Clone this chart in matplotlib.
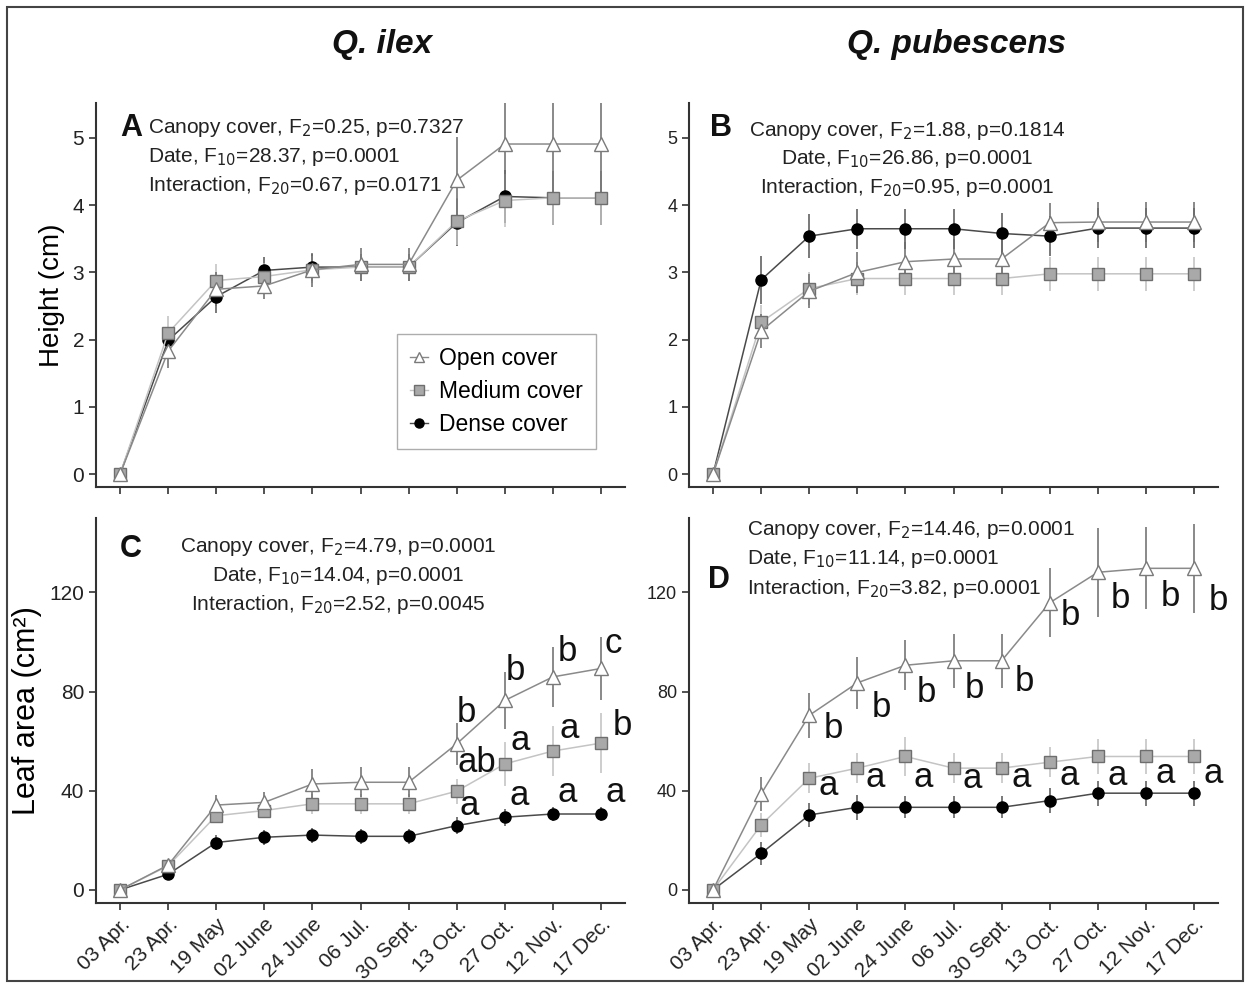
import matplotlib
matplotlib.use("Agg")
import matplotlib.pyplot as plt
from matplotlib.patches import Rectangle
from matplotlib.lines import Line2D

plt.rcParams['font.family'] = ['Liberation Sans', 'DejaVu Sans']

dates = ["03 Apr.", "23 Apr.", "19 May", "02 June", "24 June", "06 Jul.",
         "30 Sept.", "13 Oct.", "27 Oct.", "12 Nov.", "17 Dec."]
series_names = ["Open cover", "Medium cover", "Dense cover"]

# Panel A: Q. ilex height (cm)
a_open = [0, 1.83, 2.75, 2.80, 3.04, 3.12, 3.12, 4.37, 4.91, 4.91, 4.91]
a_open_err = [0, 0.25, 0.25, 0.2, 0.25, 0.25, 0.25, 0.65, 0.85, 0.85, 0.85]
a_med = [0, 2.10, 2.88, 2.94, 3.04, 3.08, 3.08, 3.76, 4.07, 4.11, 4.11]
a_med_err = [0, 0.25, 0.25, 0.2, 0.2, 0.2, 0.2, 0.35, 0.4, 0.4, 0.4]
a_dense = [0, 1.99, 2.64, 3.03, 3.08, 3.08, 3.08, 3.74, 4.13, 4.11, 4.11]
a_dense_err = [0, 0.2, 0.25, 0.2, 0.2, 0.2, 0.2, 0.35, 0.4, 0.4, 0.4]

# Panel B: Q. pubescens height (cm)
b_open = [0, 2.13, 2.72, 3.00, 3.16, 3.20, 3.20, 3.74, 3.75, 3.75, 3.75]
b_open_err = [0, 0.25, 0.25, 0.3, 0.3, 0.3, 0.3, 0.3, 0.3, 0.3, 0.3]
b_med = [0, 2.26, 2.76, 2.91, 2.91, 2.91, 2.91, 2.98, 2.98, 2.98, 2.98]
b_med_err = [0, 0.25, 0.25, 0.25, 0.25, 0.25, 0.25, 0.25, 0.25, 0.25, 0.25]
b_dense = [0, 2.89, 3.54, 3.65, 3.65, 3.65, 3.58, 3.54, 3.66, 3.66, 3.66]
b_dense_err = [0, 0.36, 0.33, 0.3, 0.3, 0.3, 0.3, 0.3, 0.3, 0.3, 0.3]

# Panel C: Q. ilex leaf area (cm2)
c_open = [0, 10.0, 34.2, 35.3, 42.7, 43.4, 43.4, 58.9, 76.4, 85.9, 89.3]
c_open_err = [0, 2, 4, 4, 6, 6, 6, 8.5, 11.5, 12, 12.8]
c_med = [0, 9.7, 29.9, 32.0, 34.7, 34.7, 34.7, 39.8, 50.8, 56.0, 59.2]
c_med_err = [0, 2, 3, 3, 4, 4, 4, 5, 9, 10, 12]
c_dense = [0, 6.3, 19.1, 21.2, 22.1, 21.6, 21.6, 25.9, 29.3, 30.6, 30.6]
c_dense_err = [0, 1.5, 3, 3, 3, 3, 3, 3.5, 3.5, 3, 3]

# Panel D: Q. pubescens leaf area (cm2)
d_open = [0, 38.7, 70.4, 83.5, 90.6, 92.4, 92.4, 115.8, 128.1, 129.7, 129.7]
d_open_err = [0, 7, 9, 10.5, 10, 11, 11, 14, 18, 16.5, 18]
d_med = [0, 26.2, 45.0, 49.1, 53.8, 49.1, 49.1, 51.5, 53.8, 53.8, 53.8]
d_med_err = [0, 5, 6, 6, 8, 6, 6, 6, 7, 7, 7]
d_dense = [0, 14.7, 30.2, 33.3, 33.3, 33.3, 33.3, 36.0, 39.0, 39.0, 39.0]
d_dense_err = [0, 4.5, 5, 5, 4.5, 4.5, 4.5, 5, 5, 5, 5]

# Significance letters (index of date, letter)
c_open_letters = [(7, "b"), (8, "b"), (9, "b"), (10, "c")]
c_med_letters = [(7, "ab"), (8, "a"), (9, "a"), (10, "b")]
c_dense_letters = [(7, "a"), (8, "a"), (9, "a"), (10, "a")]
d_open_letters = [(i, "b") for i in range(2, 11)]
d_med_letters = [(i, "a") for i in range(2, 11)]

# Layout: letter anchor positions (data coords) - placement only
c_open_lpos = [(7.2, 71.7), (8.22, 88.6), (9.3, 96.0), (10.26, 99.4)]
c_med_lpos = [(7.42, 51.5), (8.33, 60.3), (9.33, 65.0), (10.44, 66.3)]
c_dense_lpos = [(7.26, 34.0), (8.3, 38.0), (9.3, 39.4), (10.3, 39.4)]
d_open_lpos = [(2.5, 65.0), (3.5, 73.7), (4.44, 79.8), (5.44, 81.2), (6.48, 83.9),
               (7.44, 110.8), (8.48, 117.6), (9.5, 118.2), (10.5, 116.9)]
d_med_lpos = [(2.39, 42.0), (3.37, 45.4), (4.37, 45.4), (5.39, 44.8), (6.4, 45.4),
              (7.4, 46.1), (8.4, 46.1), (9.4, 46.8), (10.4, 46.8)]

x = list(range(len(dates)))

W, H = 1250, 988
fig = plt.figure(figsize=(W / 100, H / 100), dpi=100)

def frac(l, t, r, b):
    return [l / W, 1 - b / H, (r - l) / W, (b - t) / H]

axA = fig.add_axes(frac(96, 103, 625, 487))
axB = fig.add_axes(frac(689, 103, 1218, 487))
axC = fig.add_axes(frac(96, 518, 625, 903))
axD = fig.add_axes(frac(689, 518, 1218, 903))

styles = {
    "open": dict(marker='^', mfc='white', mec='#7a7a7a', color='#8a8a8a', ms=9.5, ecolor='#6a6a6a'),
    "med": dict(marker='s', mfc='#a9a9a9', mec='#6e6e6e', color='#c4c4c4', ms=8, ecolor='#c0c0c0'),
    "dense": dict(marker='o', mfc='black', mec='black', color='#4a4a4a', ms=8, ecolor='#555555'),
}

def draw(ax, dense, dense_e, med, med_e, op, op_e):
    for key, y, e in [("dense", dense, dense_e), ("med", med, med_e), ("open", op, op_e)]:
        s = styles[key]
        ax.errorbar(x, y, yerr=e, fmt='none', ecolor=s['ecolor'], elinewidth=1.1, capsize=0, zorder=2)
        ax.plot(x, y, color=s['color'], lw=1.1, marker=s['marker'], mfc=s['mfc'], mec=s['mec'],
                ms=s['ms'], mew=1.0, zorder=3)

draw(axA, a_dense, a_dense_err, a_med, a_med_err, a_open, a_open_err)
draw(axB, b_dense, b_dense_err, b_med, b_med_err, b_open, b_open_err)
draw(axC, c_dense, c_dense_err, c_med, c_med_err, c_open, c_open_err)
draw(axD, d_dense, d_dense_err, d_med, d_med_err, d_open, d_open_err)

for ax, top in [(axA, True), (axB, True), (axC, False), (axD, False)]:
    ax.set_xlim(-0.5, 10.5)
    if top:
        ax.set_ylim(-0.19, 5.52)
        ax.set_yticks([0, 1, 2, 3, 4, 5])
        ax.set_xticks(x)
        ax.set_xticklabels([])
    else:
        ax.set_ylim(-5.3, 150)
        ax.set_yticks([0, 40, 80, 120])
        ax.set_xticks(x)
        ax.set_xticklabels(dates, rotation=45, ha='right', rotation_mode='anchor', fontsize=15)
    for sp in ['top', 'right']:
        ax.spines[sp].set_visible(False)
    for sp in ['left', 'bottom']:
        ax.spines[sp].set_color('#333333')
        ax.spines[sp].set_linewidth(1.5)
    ax.tick_params(direction='out', length=5, width=1.2, color='#333333', labelcolor='#222222')
    ax.tick_params(axis='y', labelsize=15 if ax in (axA, axC) else 13)
    ax.set_facecolor('white')

axA.set_ylabel("Height (cm)", fontsize=20, labelpad=5)
axC.set_ylabel("Leaf area (cm²)", fontsize=22, labelpad=5)

# Panel letters
for ax, lab, px, py in [(axA, "A", 0.045, 0.935), (axB, "B", 0.04, 0.935),
                        (axC, "C", 0.045, 0.92), (axD, "D", 0.035, 0.84)]:
    ax.text(px, py, lab, transform=ax.transAxes, fontsize=22, fontweight='bold',
            ha='left', va='center', color='#111111')

def stats(ax, lines, xs, ys, ha, fs):
    for t, xx, yy in zip(lines, xs, ys):
        ax.text(xx, yy, t, transform=ax.transAxes, fontsize=fs, ha=ha, va='center', color='#222222')

stats(axA, [r"Canopy cover, F$_{2}$=0.25, p=0.7327",
            r"Date, F$_{10}$=28.37, p=0.0001",
            r"Interaction, F$_{20}$=0.67, p=0.0171"], [(148 - 96) / 529] * 3,
      [1 - (128 - 103) / 384, 1 - (157 - 103) / 384, 1 - (185 - 103) / 384], 'left', 15)
stats(axB, [r"Canopy cover, F$_{2}$=1.88, p=0.1814",
            r"Date, F$_{10}$=26.86, p=0.0001",
            r"Interaction, F$_{20}$=0.95, p=0.0001"],
      [(907 - 689) / 529] * 3,
      [1 - (131 - 103) / 384, 1 - (159 - 103) / 384, 1 - (187 - 103) / 384], 'center', 15)
stats(axC, [r"Canopy cover, F$_{2}$=4.79, p=0.0001",
            r"Date, F$_{10}$=14.04, p=0.0001",
            r"Interaction, F$_{20}$=2.52, p=0.0045"], [(338 - 96) / 529] * 3,
      [1 - (547 - 518) / 385, 1 - (576 - 518) / 385, 1 - (604 - 518) / 385], 'center', 15)
stats(axD, [r"Canopy cover, F$_{2}$=14.46, p=0.0001",
            r"Date, F$_{10}$=11.14, p=0.0001",
            r"Interaction, F$_{20}$=3.82, p=0.0001"], [(747 - 689) / 529] * 3,
      [1 - (530 - 518) / 385, 1 - (559 - 518) / 385, 1 - (588 - 518) / 385], 'left', 15)

lfs = 25
for ax, letters, pos in [(axC, c_open_letters, c_open_lpos), (axC, c_med_letters, c_med_lpos),
                         (axC, c_dense_letters, c_dense_lpos), (axD, d_open_letters, d_open_lpos),
                         (axD, d_med_letters, d_med_lpos)]:
    for (i, l), (px, py) in zip(letters, pos):
        ax.text(px, py, l, fontsize=lfs, ha='center', va='center', color='#111111', zorder=5)

# Legend
handles = [
    Line2D([], [], color=styles['open']['color'], marker='^', mfc='white', mec='#7a7a7a', ms=7, lw=1),
    Line2D([], [], color=styles['med']['color'], marker='s', mfc='#a9a9a9', mec='#6e6e6e', ms=6.5, lw=1),
    Line2D([], [], color=styles['dense']['color'], marker='o', mfc='black', mec='black', ms=6.5, lw=1),
]
leg = axA.legend(handles, series_names, loc='upper left',
                 bbox_to_anchor=((397 - 96) / 529, 1 - (334 - 103) / 384),
                 fontsize=16.5, handlelength=0.8, handletextpad=0.5, borderpad=0.55,
                 labelspacing=0.45, fancybox=False, frameon=True, borderaxespad=0)
leg.get_frame().set_edgecolor('#999999')
leg.get_frame().set_linewidth(1.0)

fig.text(382 / W, 1 - 45 / H, "Q. ilex", fontsize=24, fontweight='bold', fontstyle='italic',
         ha='center', va='center', color='#111111')
fig.text(957 / W, 1 - 45 / H, "Q. pubescens", fontsize=24, fontweight='bold', fontstyle='italic',
         ha='center', va='center', color='#111111')

fig.patches.append(Rectangle((7 / W, 7 / H), (W - 14) / W, (H - 14) / H, transform=fig.transFigure,
                             fill=False, edgecolor='#444444', linewidth=1.5))

fig.savefig("out.png", dpi=100, facecolor='white')
